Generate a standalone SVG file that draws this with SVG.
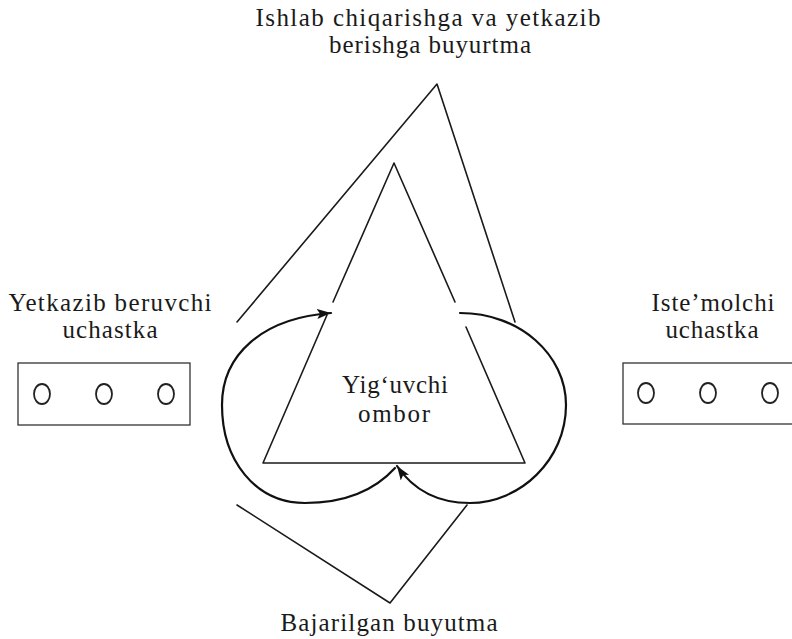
<svg xmlns="http://www.w3.org/2000/svg" width="792" height="639" viewBox="0 0 792 639">
<defs>
<marker id="arr" markerUnits="userSpaceOnUse" markerWidth="16" markerHeight="12" refX="14" refY="5" orient="auto">
<path d="M0,0 L14,5 L0,10 L3,5 z" fill="#111"/>
</marker>
<style>
.t{font-family:"Liberation Serif","Times New Roman",serif;font-size:25px;fill:#1a1a1a;text-anchor:middle}
.ln{fill:none;stroke:#1a1a1a;stroke-width:1.6;stroke-linecap:round;stroke-linejoin:round}
.loop{fill:none;stroke:#111;stroke-width:2.2;stroke-linecap:round}
.box{fill:#fff;stroke:#333;stroke-width:1.3}
.o{fill:none;stroke:#222;stroke-width:1.8}
</style>
</defs>
<rect width="792" height="639" fill="#fff"/>

<g id="label-top">
<text class="t" x="428" y="26" textLength="345" lengthAdjust="spacing">Ishlab chiqarishga va yetkazib</text>
<text class="t" x="430" y="53" textLength="202" lengthAdjust="spacing">berishga buyurtma</text>
</g>

<g id="supplier">
<text class="t" x="110" y="311" textLength="203" lengthAdjust="spacing">Yetkazib beruvchi</text>
<text class="t" x="110" y="338" textLength="95" lengthAdjust="spacing">uchastka</text>
<rect class="box" x="18" y="363" width="172" height="62"/>
<ellipse class="o" cx="42" cy="394" rx="8" ry="10"/>
<ellipse class="o" cx="104" cy="394" rx="8" ry="10"/>
<ellipse class="o" cx="166" cy="394" rx="8" ry="10"/>
</g>

<g id="consumer">
<text class="t" x="713" y="311" textLength="123" lengthAdjust="spacing">Iste’molchi</text>
<text class="t" x="712" y="338" textLength="93" lengthAdjust="spacing">uchastka</text>
<rect class="box" x="623" y="363" width="180" height="61"/>
<ellipse class="o" cx="646" cy="393" rx="8" ry="10"/>
<ellipse class="o" cx="708" cy="393" rx="8" ry="10"/>
<ellipse class="o" cx="770" cy="393" rx="8" ry="10" stroke="#888"/>
</g>

<g id="warehouse">
<path class="ln" d="M333,302 L394,163 L455,302"/>
<path class="ln" d="M327,315 L263,463 L525,463 L466,327"/>
<text class="t" x="395" y="393" textLength="106" lengthAdjust="spacing">Yig‘uvchi</text>
<text class="t" x="394" y="422" textLength="72" lengthAdjust="spacing">ombor</text>
</g>

<g id="label-bottom">
<text class="t" x="389" y="631" textLength="217" lengthAdjust="spacing">Bajarilgan buyutma</text>
</g>

<g id="connectors">
<path class="ln" d="M237,322 L437,84 L515,322"/>
<path class="ln" d="M237,505 L390,603 L467,505"/>
<path class="loop" d="M395,468 C375,490 345,503 305,503 C255,503 222,460 222,405 C222,355 262,318 331,313" marker-end="url(#arr)"/>
<path class="loop" d="M460,313 C520,313 566,355 566,405 C566,460 520,503 470,503 C435,503 412,488 397,466" marker-end="url(#arr)"/>
</g>
</svg>
